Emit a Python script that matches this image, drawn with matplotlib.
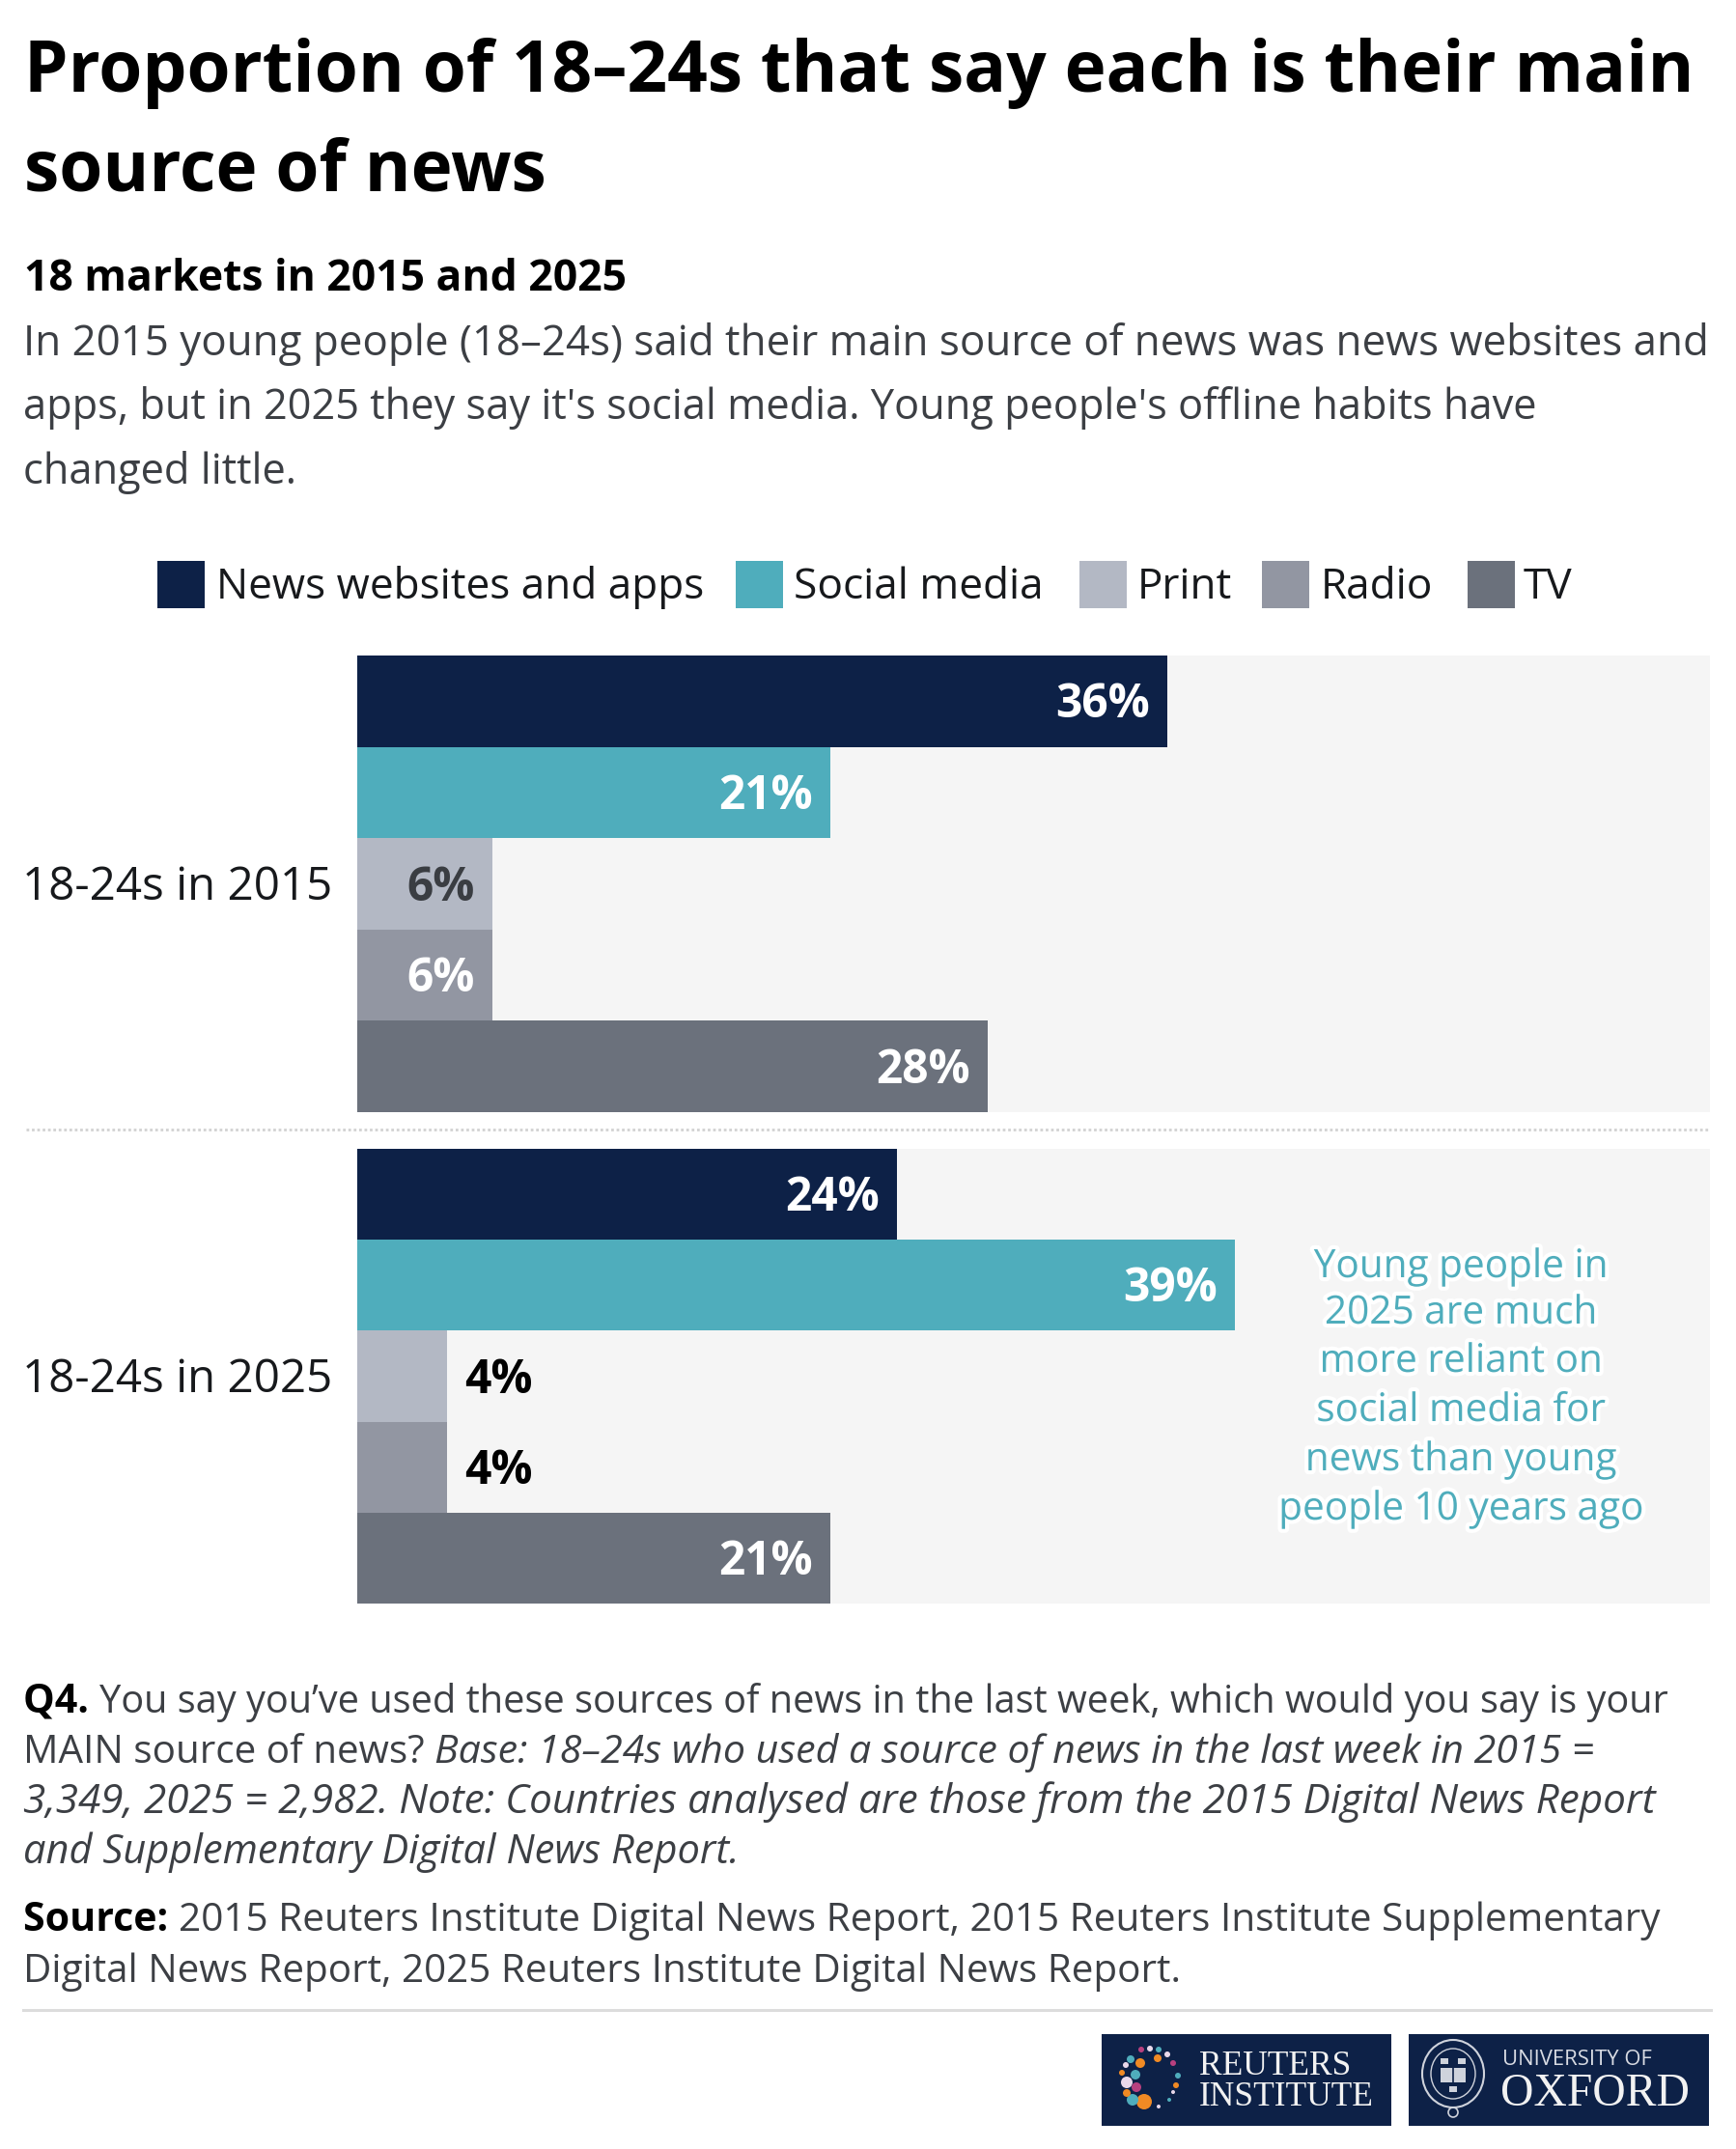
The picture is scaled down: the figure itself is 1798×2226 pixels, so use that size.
import numpy as np
import matplotlib
matplotlib.use('Agg')
import matplotlib.pyplot as plt
import matplotlib.patheffects as pe
from matplotlib.patches import Rectangle, Circle, Ellipse

plt.rcParams['font.family'] = ['Open Sans', 'DejaVu Sans']

sources = ['News websites and apps', 'Social media', 'Print', 'Radio', 'TV']
colors = ['#0d2147', '#4fadbc', '#b3b8c4', '#9296a2', '#6b717c']
groups = ['18-24s in 2015', '18-24s in 2025']
values_2015 = [36, 21, 6, 6, 28]
values_2025 = [24, 39, 4, 4, 21]
label_colors_2015 = ['white', 'white', '#3a3d42', 'white', 'white']
label_colors_2025 = ['white', 'white', 'black', 'black', 'white']

title_lines = ['Proportion of 18–24s that say each is their main', 'source of news']
subtitle = '18 markets in 2015 and 2025'
intro_lines = ['In 2015 young people (18–24s) said their main source of news was news websites and',
               "apps, but in 2025 they say it's social media. Young people's offline habits have",
               'changed little.']
note_lines = ['Young people in', '2025 are much', 'more reliant on', 'social media for',
              'news than young', 'people 10 years ago']

W, H = 1798, 2226
fig = plt.figure(figsize=(W / 100, H / 100), dpi=100, facecolor='white')

# overlay in pixel coordinates for all the page furniture
page = fig.add_axes([0, 0, 1, 1], zorder=5)
page.set_xlim(0, W)
page.set_ylim(H, 0)
page.axis('off')
page.patch.set_alpha(0)


def runs(x, y, parts):
    # draw bold / regular / italic pieces one after the other on a line
    r = fig.canvas.get_renderer()
    inv = page.transData.inverted()
    for s, weight, style, size in parts:
        t = page.text(x, y, s, fontsize=size, fontweight=weight, fontstyle=style,
                      color='#3c3f44' if weight == 'normal' else 'black', va='baseline')
        x = inv.transform(t.get_window_extent(r).get_points())[1][0]


def panel(top, bottom, values, label_colors):
    ax = fig.add_axes([370 / W, 1 - bottom / H, (1771 - 370) / W, (bottom - top) / H])
    ax.set_facecolor('#f5f5f5')
    y = np.arange(len(values))
    ax.barh(y, values, height=1, color=colors)
    ax.set_xlim(0, 60.1)
    ax.set_ylim(len(values) - 0.5, -0.5)
    for s in ax.spines.values():
        s.set_visible(False)
    ax.set_xticks([])
    ax.set_yticks([])
    for yi, v, c in zip(y, values, label_colors):
        if v < 5:
            ax.annotate(f'{v}%', (v, yi), xytext=(13, 1), textcoords='offset points',
                        ha='left', va='center_baseline', color=c, fontsize=34.5, fontweight='bold')
        else:
            ax.annotate(f'{v}%', (v, yi), xytext=(-13, 1), textcoords='offset points',
                        ha='right', va='center_baseline', color=c, fontsize=34.5, fontweight='bold')
    return ax


panel(679, 1152, values_2015, label_colors_2015)
panel(1190, 1661, values_2025, label_colors_2025)

# headings
page.text(25, 95, title_lines[0], fontsize=52.5, fontweight='bold', color='black', va='baseline')
page.text(25, 197, title_lines[1], fontsize=52.5, fontweight='bold', color='black', va='baseline')
page.text(25, 301, subtitle, fontsize=32, fontweight='bold', color='black', va='baseline')
for yy, line, size in zip([368, 434, 501], intro_lines, [31.6, 31.2, 31.3]):
    page.text(24, yy, line, fontsize=size, color='#3c3f44', va='baseline')

# legend
for x0, x_txt, name, c in zip([163, 762, 1118, 1307, 1520], [224, 822, 1178, 1368, 1578], sources, colors):
    page.add_patch(Rectangle((x0, 581), 49, 49, color=c, lw=0))
    page.text(x_txt, 620, name, fontsize=31.8, color='#17191c', va='baseline')

# group labels
page.text(344, 932, groups[0], fontsize=34.2, color='#17191c', ha='right', va='baseline')
page.text(344, 1442, groups[1], fontsize=34.2, color='#17191c', ha='right', va='baseline')

# divider between panels
page.plot([27, 1769], [1170, 1170], color='#d2d2d2', lw=2, ls=(0, (1, 1)))

# annotation with a white halo
for yy, line in zip([1323, 1371, 1421, 1472, 1523, 1574], note_lines):
    page.text(1513, yy, line, fontsize=29.2, color='#4fadbc', ha='center', va='baseline',
              path_effects=[pe.withStroke(linewidth=6, foreground='white')])

# footnotes
runs(24, 1774, [('Q4. ', 'bold', 'normal', 29.6),
                ('You say you’ve used these sources of news in the last week, which would you say is your', 'normal', 'normal', 28.6)])
runs(24, 1826, [('MAIN source of news? ', 'normal', 'normal', 29.1),
                ('Base: 18–24s who used a source of news in the last week in 2015 =', 'normal', 'italic', 29.6)])
runs(24, 1878, [('3,349, 2025 = 2,982. Note: Countries analysed are those from the 2015 Digital News Report', 'normal', 'italic', 30.4)])
runs(24, 1930, [('and Supplementary Digital News Report.', 'normal', 'italic', 30)])
runs(24, 2000, [('Source: ', 'bold', 'normal', 29.6),
                ('2015 Reuters Institute Digital News Report, 2015 Reuters Institute Supplementary', 'normal', 'normal', 29.2)])
runs(24, 2053, [('Digital News Report, 2025 Reuters Institute Digital News Report.', 'normal', 'normal', 29.1)])

page.plot([24, 1772], [2082, 2082], color='#dcdcdc', lw=2.2)

# logo boxes
navy = '#0d2147'
page.add_patch(Rectangle((1141, 2107), 300, 95, color=navy, lw=0))
page.add_patch(Rectangle((1459, 2107), 311, 95, color=navy, lw=0))
page.text(1242, 2149, 'REUTERS', family='Liberation Serif', fontsize=25.5, color='#f2f2f2', va='baseline')
page.text(1242, 2181, 'INSTITUTE', family='Liberation Serif', fontsize=25.5, color='#f2f2f2', va='baseline')
page.text(1556, 2139, 'UNIVERSITY OF', fontsize=15.8, color='#d8dbe3', va='baseline')
page.text(1554, 2181, 'OXFORD', family='Liberation Serif', fontsize=34.3, color='#f2f2f2', va='baseline')

# dots of the reuters ring
teal, orange, pale, magenta = '#4fadbc', '#f08a24', '#e9d8ea', '#b8407f'
ring = [(1185, 2177, 8, orange), (1173, 2175, 6, teal), (1167, 2157, 6, pale), (1177, 2162, 5, magenta),
        (1167, 2168, 4, orange), (1176, 2149, 5, teal), (1162, 2147, 3, orange), (1166, 2139, 3, pale),
        (1181, 2137, 5, orange), (1171, 2133, 4, teal), (1182, 2123, 3, magenta), (1191, 2122, 3, pale),
        (1200, 2123, 3, teal), (1199, 2132, 4, orange), (1209, 2128, 3, pale), (1215, 2137, 3, magenta),
        (1220, 2150, 3, teal), (1218, 2160, 3, orange), (1215, 2167, 2, pale), (1211, 2175, 2, teal),
        (1200, 2182, 2, pale)]
for cx, cy, r, c in ring:
    page.add_patch(Circle((cx, cy), r, color=c, lw=0))

# oxford crest
crest = '#cfd3dc'
page.add_patch(Ellipse((1505, 2148), 64, 70, fill=False, ec=crest, lw=1.5))
page.add_patch(Ellipse((1505, 2148), 46, 52, fill=False, ec=crest, lw=1))
page.add_patch(Rectangle((1492, 2142), 26, 15, color=crest, lw=0))
page.plot([1505, 1505], [2142, 2157], color=navy, lw=1.2)
# three small crowns around the book
for cx, cy in [(1496, 2135), (1514, 2135), (1505, 2164)]:
    page.add_patch(Rectangle((cx - 4, cy - 3), 8, 6, color=crest, lw=0))
page.add_patch(Circle((1505, 2188), 5, fill=False, ec=crest, lw=1.2))

fig.savefig('out.png', dpi=100, facecolor='white')
